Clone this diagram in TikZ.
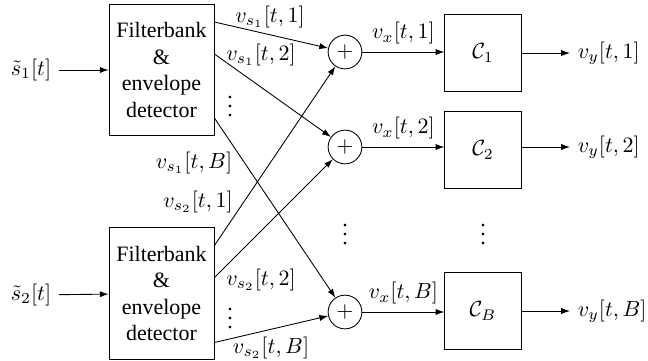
\documentclass[tikz,border=0pt]{standalone}
\usepackage[no-math]{fontspec}
\setmainfont{Liberation Serif}
\usetikzlibrary{positioning, arrows.meta, calc}

\begin{document}
\begin{tikzpicture}[x=0.016cm, y=-0.016cm, line width=0.4pt, >={Latex[length=4pt,width=2.8pt]},
    fbbox/.style={draw, align=center, minimum width=1.68cm, minimum height=2.11cm, inner sep=1pt},
    sumnode/.style={draw, circle, minimum size=0.54cm, inner sep=0pt},
    clfbox/.style={draw, minimum size=1.22cm}]
    \useasboundingbox (0,0) rectangle (648,360);
    % filterbanks
    \node[fbbox] (fb1) at (161.5,70) {Filterbank\\\&\\envelope\\detector};
    \node[fbbox] (fb2) at (161.5,293.5) {Filterbank\\\&\\envelope\\detector};
    \node (in1) at (31,70) {$\tilde{s}_1[t]$};
    \node (in2) at (31,295) {$\tilde{s}_2[t]$};
    \draw[->] (in1) -- (fb1);
    \draw[->] (in2) -- (fb2);
    % adders and classifiers
    \node[sumnode] (sum1) at (345,52) {$+$};
    \node[sumnode] (sum2) at (345,147) {$+$};
    \node[sumnode] (sumB) at (345,312) {$+$};
    \node[clfbox] (clf1) at (483,53) {$\mathcal{C}_1$};
    \node[clfbox] (clf2) at (483,150) {$\mathcal{C}_2$};
    \node[clfbox] (clfB) at (483,311) {$\mathcal{C}_B$};
    \node[anchor=west] (out1) at (570,53) {$v_y[t,1]$};
    \node[anchor=west] (out2) at (570,147) {$v_y[t,2]$};
    \node[anchor=west] (outB) at (570,311) {$v_y[t,B]$};
    % outputs of the filterbanks
    \coordinate (fb1a) at ($(fb1.east)+(0,-48)$);
    \coordinate (fb1b) at ($(fb1.east)+(0,-16)$);
    \coordinate (fb1c) at ($(fb1.east)+(0,48)$);
    \coordinate (fb2a) at ($(fb2.east)+(0,-48)$);
    \coordinate (fb2b) at ($(fb2.east)+(0,-16)$);
    \coordinate (fb2c) at ($(fb2.east)+(0,49)$);
    \draw[->] (fb1a) -- (sum1);
    \draw[->] (fb1b) -- (sum2);
    \draw[->] (fb1c) -- (sumB);
    \draw[->] (fb2a) -- (sum1);
    \draw[->] (fb2b) -- (sum2);
    \draw[->] (fb2c) -- (sumB);
    \node (ls1a) at (270,17) {$v_{s_1}[t,1]$};
    \node (ls1b) at (261,55) {$v_{s_1}[t,2]$};
    \node (ls1c) at (194,163) {$v_{s_1}[t,B]$};
    \node (ls2a) at (198,202) {$v_{s_2}[t,1]$};
    \node (ls2b) at (261,280) {$v_{s_2}[t,2]$};
    \node (ls2c) at (271,348) {$v_{s_2}[t,B]$};
    \node (dots1) at (230,100) {$\vdots$};
    \node (dots2) at (230,312) {$\vdots$};
    \node (dots3) at (345,228) {$\vdots$};
    \node (dots4) at (483,228) {$\vdots$};
    % into the classifiers
    \draw[->] (sum1) -- node[above] {$v_x[t,1]$} (sum1 -| clf1.west);
    \draw[->] (sum2) -- node[above] {$v_x[t,2]$} (sum2 -| clf2.west);
    \draw[->] (sumB) -- node[above] {$v_x[t,B]$} (sumB -| clfB.west);
    \draw[->] (clf1) -- (out1);
    \draw[->] (clf2.east |- out2) -- (out2);
    \draw[->] (clfB) -- (outB);
\end{tikzpicture}
\end{document}
